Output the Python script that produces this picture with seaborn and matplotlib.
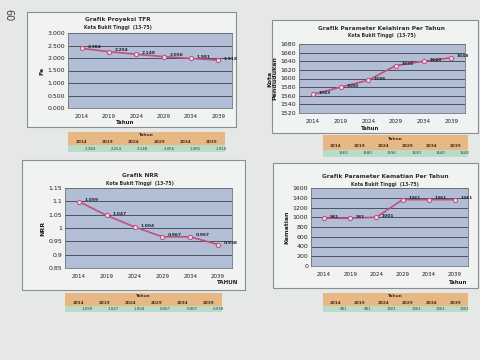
import matplotlib
matplotlib.use("Agg")
import matplotlib.pyplot as plt
import seaborn as sns
import pandas as pd
import numpy as np
from matplotlib.patches import Rectangle

sns.set_theme(style="white")
plt.rcParams['font.family'] = ['DejaVu Sans']

years = [2014, 2019, 2024, 2029, 2034, 2039]
tfr = [2.384, 2.254, 2.148, 2.056, 1.981, 1.918]
tfr_labels = ["2.384", "2.254", "2.148", "2.056", "1.981", "1.918"]
births = [1563, 1580, 1596, 1630, 1640, 1648]
births_labels = ["1563", "1580", "1596", "1630", "1640", "1648"]
nrr = [1.099, 1.047, 1.004, 0.967, 0.967, 0.938]
nrr_labels = ["1.099", "1.047", "1.004", "0.967", "0.967", "0.938"]
deaths = [981, 981, 1001, 1361, 1361, 1361]
deaths_labels = ["981", "981", "1001", "1361", "1361", "1361"]

W, H = 480, 360
fig = plt.figure(figsize=(4.8, 3.6), dpi=100)
fig.patch.set_facecolor('#e6e8e8')

def px(x0, y0, x1, y1):
    return [x0 / W, 1 - y1 / H, (x1 - x0) / W, (y1 - y0) / H]

def frame(x0, y0, x1, y1):
    r = Rectangle((x0 / W, 1 - y1 / H), (x1 - x0) / W, (y1 - y0) / H,
                  transform=fig.transFigure, facecolor='#f1f3f3',
                  edgecolor='#8a8e90', linewidth=0.8, zorder=-5)
    fig.patches.append(r)

def chart(rect, vals, labels, ylim, yticks, ytfmt, ylabel, xlabel, xlabel_pos, title, sub, sub_y, title_y, tx):
    ax = fig.add_axes(px(*rect))
    ax.set_zorder(2)
    ax.set_facecolor('#b2bed6')
    df = pd.DataFrame({"Tahun": [str(y) for y in years], "v": vals})
    sns.lineplot(data=df, x="Tahun", y="v", ax=ax, color='#c2507e', linewidth=1.2,
                 marker='o', markersize=3, markerfacecolor='#e8e0ea', markeredgecolor='#c2507e', sort=False)
    ax.set_ylim(*ylim)
    ax.set_yticks(yticks)
    ax.set_yticklabels([ytfmt(t) for t in yticks], fontsize=4.5, color='#202020')
    ax.set_xlim(-0.5, 5.5)
    ax.tick_params(axis='x', labelsize=4, pad=4, length=0, labelcolor='#202020')
    ax.tick_params(axis='y', length=0, pad=2)
    ax.grid(axis='y', color='#3c4048', linewidth=0.6)
    ax.set_axisbelow(True)
    for s in ax.spines.values():
        s.set_color('#707478'); s.set_linewidth(0.6)
    ax.set_xlabel("")
    ax.set_ylabel(ylabel, fontsize=4.5, fontweight='bold', labelpad=2, color='#202020')
    for i, (v, l) in enumerate(zip(vals, labels)):
        ax.annotate(l, (i, v), xytext=(4, 1), textcoords='offset points', fontsize=3.2,
                    color='#202428', fontweight='bold', va='center')
    fig.text(xlabel_pos[0] / W, 1 - xlabel_pos[1] / H, xlabel, fontsize=4, fontweight='bold',
             ha='center', va='center', color='#202020')
    fig.text(tx / W, 1 - title_y / H, title, fontsize=4.2, fontweight='bold', ha='center', va='center', color='#303030')
    fig.text(tx / W, 1 - sub_y / H, sub, fontsize=3.3, fontweight='bold', ha='center', va='center', color='#303030')
    return ax

def table(x0, y0, x1, y1, labels):
    ax = fig.add_axes(px(x0, y0, x1, y1))
    ax.set_zorder(2)
    ax.set_xlim(0, 6); ax.set_ylim(0, 3)
    ax.axis('off')
    ax.add_patch(Rectangle((0, 1), 6, 2, facecolor='#e8b884', edgecolor='none'))
    ax.add_patch(Rectangle((0, 0), 6, 1, facecolor='#b8dcc8', edgecolor='none'))
    ax.text(3, 2.5, "Tahun", ha='center', va='center', fontsize=3.2, fontweight='bold', color='#403020')
    for i, y in enumerate(years):
        ax.text(i + 0.5, 1.5, str(y), ha='center', va='center', fontsize=3, fontweight='bold', color='#403020')
        ax.text(i + 0.85, 0.5, labels[i], ha='center', va='center', fontsize=2.8, color='#304040')

# chart frames
frame(27, 12, 236, 127)
frame(272, 20, 478, 133)
frame(22, 160, 245, 290)
frame(273, 163, 478, 288)

chart((68, 33, 232, 108), tfr, tfr_labels, (0, 3), [0, 0.5, 1, 1.5, 2, 2.5, 3],
      lambda t: f"{t:.3f}", "Fe", "Tahun", (125, 123),
      "Grafik Proyeksi TFR", "Kota Bukit Tinggi  (13-75)", 27, 20, 118)
chart((299, 44, 465, 113), births, births_labels, (1520, 1680), list(range(1520, 1681, 20)),
      lambda t: f"{t:d}", "Kota\nPendudukan", "Tahun", (370, 128),
      "Grafik Parameter Kelahiran Per Tahun", "Kota Bukit Tinggi  (13-75)", 36, 28, 382)
chart((65, 188, 232, 268), nrr, nrr_labels, (0.85, 1.15), [0.85, 0.9, 0.95, 1.0, 1.05, 1.1, 1.15],
      lambda t: f"{t:g}", "NRR", "TAHUN", (228, 283),
      "Grafik NRR", "Kota Bukit Tinggi  (13-75)", 183, 175, 140)
chart((311, 188, 468, 266), deaths, deaths_labels, (0, 1600), list(range(0, 1601, 200)),
      lambda t: f"{t:d}", "Kematian", "Tahun", (458, 282),
      "Grafik Parameter Kematian Per Tahun", "Kota Bukit Tinggi  (13-75)", 185, 176, 385)

table(68, 132, 225, 152, tfr_labels)
table(323, 135, 468, 157, births_labels)
table(65, 293, 222, 312, nrr_labels)
table(323, 293, 468, 312, deaths_labels)

fig.text(8 / W, 1 - 15 / H, "60", rotation=-90, fontsize=7, color='#404040', ha='center', va='center')

fig.savefig("out.png", dpi=100, facecolor=fig.get_facecolor())
